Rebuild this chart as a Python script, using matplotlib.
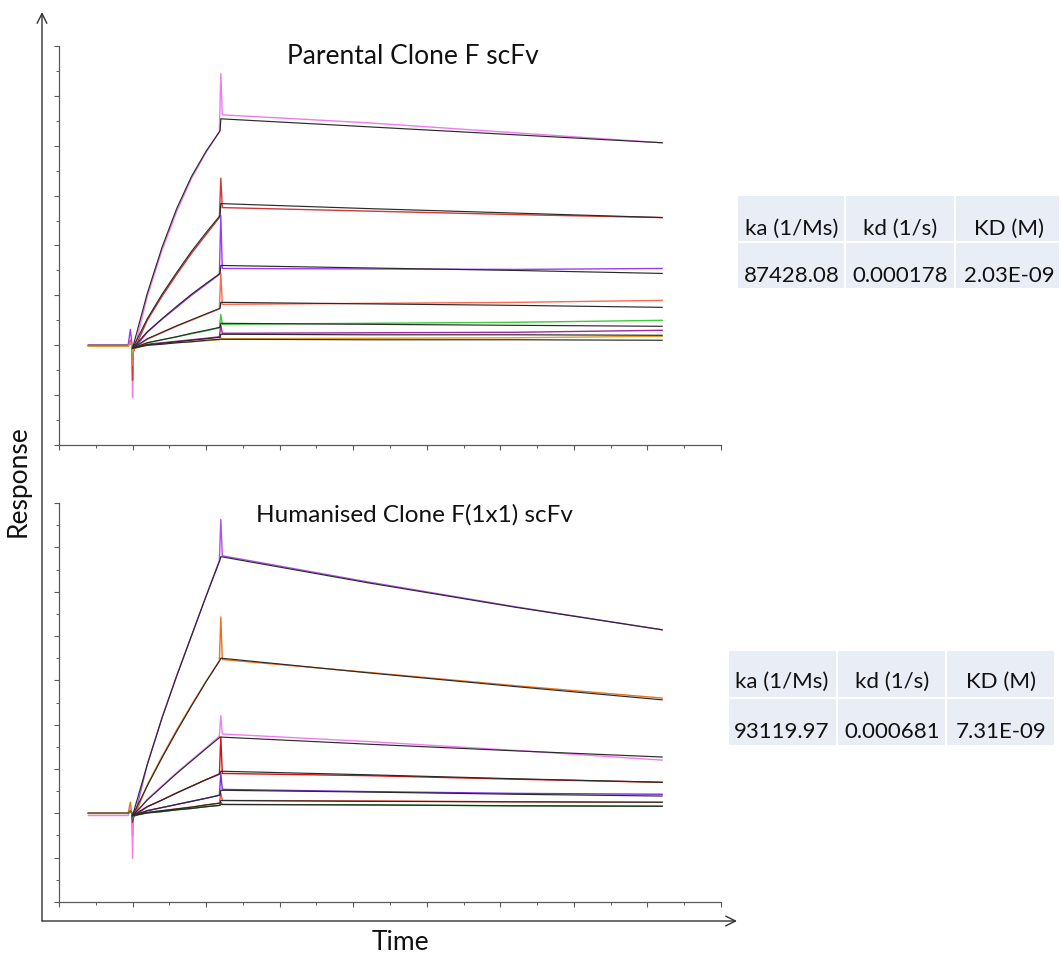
import matplotlib
matplotlib.use('Agg')
import matplotlib.pyplot as plt
from matplotlib.patches import Rectangle
from matplotlib.ticker import MultipleLocator

plt.rcParams['font.family'] = ['Lato', 'DejaVu Sans']

W, H, DPI = 1062, 957, 100

# ---------------- data ----------------
data_time = [40, 94, 97, 99, 100, 101, 103, 120, 140, 160, 180, 200, 218, 220, 222, 420, 620, 820]
fit_time = [100, 120, 140, 160, 180, 200, 219, 220, 420, 620, 820]

parental_colors = ['#ee7cee', '#d03838', '#9a3cf5', '#ff6a50', '#3ccc3c', '#a424a4', '#e0a028']
parental_data = [
    [0.0, 0.0, 0.05, 0.0, -1.05, -0.15, -0.05, 0.98, 1.9, 2.68, 3.34, 3.87, 4.28, 5.45, 4.62, 4.46, 4.26, 4.06],
    [-0.02, -0.02, 0.1, 0.0, -0.7, -0.12, -0.06, 0.5, 0.98, 1.42, 1.84, 2.22, 2.56, 3.35, 2.76, 2.69, 2.62, 2.56],
    [0.0, 0.0, 0.32, 0.05, -0.3, -0.1, -0.05, 0.26, 0.52, 0.76, 1.0, 1.22, 1.42, 2.6, 1.54, 1.53, 1.52, 1.54],
    [-0.02, -0.02, 0.08, 0.0, -0.4, -0.1, -0.06, 0.12, 0.25, 0.38, 0.5, 0.62, 0.73, 1.45, 0.82, 0.84, 0.86, 0.9],
    [0.0, 0.0, 0.05, 0.0, -0.2, -0.08, -0.06, 0.05, 0.11, 0.17, 0.23, 0.29, 0.35, 0.62, 0.42, 0.44, 0.46, 0.5],
    [0.0, 0.0, 0.05, 0.0, -0.15, -0.08, -0.06, 0.02, 0.05, 0.08, 0.11, 0.14, 0.17, 0.4, 0.24, 0.25, 0.26, 0.3],
    [-0.02, -0.02, 0.05, 0.0, -0.15, -0.08, -0.06, 0.0, 0.03, 0.05, 0.07, 0.09, 0.11, 0.16, 0.13, 0.14, 0.15, 0.18],
]
parental_fit = [
    [-0.06, 1.04, 1.96, 2.74, 3.38, 3.89, 4.3, 4.54, 4.38, 4.22, 4.06],
    [-0.06, 0.53, 1.02, 1.46, 1.88, 2.26, 2.6, 2.84, 2.74, 2.65, 2.56],
    [-0.06, 0.27, 0.53, 0.78, 1.02, 1.24, 1.44, 1.6, 1.55, 1.5, 1.44],
    [-0.06, 0.13, 0.26, 0.39, 0.51, 0.63, 0.74, 0.86, 0.83, 0.8, 0.76],
    [-0.06, 0.05, 0.11, 0.17, 0.24, 0.30, 0.36, 0.44, 0.42, 0.4, 0.38],
    [-0.06, 0.01, 0.04, 0.07, 0.1, 0.13, 0.16, 0.22, 0.21, 0.21, 0.2],
    [-0.06, 0.0, 0.02, 0.05, 0.07, 0.1, 0.12, 0.12, 0.11, 0.11, 0.1],
]

humanised_colors = ['#b450ea', '#e8731c', '#f07cf0', '#cc1414', '#7a2ee0', '#f05030', '#1a9a1a']
humanised_data = [
    [0.0, 0.0, 0.1, 0.0, -0.5, -0.1, -0.05, 1.1, 2.15, 3.1, 4.0, 4.9, 5.7, 6.63, 5.81, 5.22, 4.66, 4.14],
    [0.0, 0.0, 0.25, 0.0, -0.3, -0.1, -0.05, 0.64, 1.28, 1.88, 2.44, 2.98, 3.44, 4.43, 3.47, 3.18, 2.88, 2.6],
    [-0.05, -0.05, 0.1, 0.0, -1.02, -0.1, -0.05, 0.32, 0.62, 0.92, 1.2, 1.48, 1.74, 2.2, 1.79, 1.62, 1.42, 1.2],
    [0.0, 0.0, 0.05, 0.0, -0.2, -0.08, -0.05, 0.15, 0.3, 0.46, 0.61, 0.76, 0.88, 1.72, 0.9, 0.85, 0.77, 0.7],
    [0.0, 0.0, 0.05, 0.0, -0.15, -0.08, -0.05, 0.06, 0.13, 0.2, 0.27, 0.34, 0.41, 0.9, 0.54, 0.49, 0.45, 0.43],
    [0.0, 0.0, 0.05, 0.0, -0.1, -0.06, -0.05, 0.02, 0.06, 0.1, 0.14, 0.19, 0.23, 0.45, 0.29, 0.28, 0.26, 0.25],
    [0.0, 0.0, 0.05, 0.0, -0.1, -0.06, -0.05, 0.01, 0.04, 0.08, 0.11, 0.15, 0.18, 0.25, 0.2, 0.19, 0.17, 0.16],
]
humanised_fit = [
    [-0.05, 1.1, 2.15, 3.1, 4.0, 4.9, 5.72, 5.79, 5.2, 4.65, 4.14],
    [-0.05, 0.62, 1.25, 1.85, 2.42, 2.97, 3.46, 3.5, 3.17, 2.86, 2.56],
    [-0.05, 0.3, 0.6, 0.9, 1.18, 1.46, 1.72, 1.72, 1.56, 1.41, 1.27],
    [-0.05, 0.15, 0.3, 0.46, 0.61, 0.76, 0.9, 0.95, 0.87, 0.78, 0.7],
    [-0.05, 0.06, 0.13, 0.2, 0.27, 0.34, 0.41, 0.52, 0.48, 0.43, 0.39],
    [-0.05, 0.02, 0.06, 0.1, 0.14, 0.19, 0.23, 0.29, 0.27, 0.26, 0.25],
    [-0.05, 0.01, 0.04, 0.08, 0.11, 0.15, 0.18, 0.2, 0.19, 0.17, 0.16],
]

titles = ['Parental Clone F scFv', 'Humanised Clone F(1x1) scFv']
table_headers = ['ka (1/Ms)', 'kd (1/s)', 'KD (M)']
parental_kinetics = ['87428.08', '0.000178', '2.03E-09']
humanised_kinetics = ['93119.97', '0.000681', '7.31E-09']

# ---------------- figure ----------------
fig = plt.figure(figsize=(W / DPI, H / DPI), dpi=DPI)


def px_axes(left, top, right, bottom):
    return fig.add_axes([left / W, 1 - bottom / H, (right - left) / W, (bottom - top) / H])


SPINE = '#5a5a5a'


def style(ax, ymin, ymax):
    ax.set_xlim(0, 900)
    ax.set_ylim(ymin, ymax)
    for s in ['top', 'right']:
        ax.spines[s].set_visible(False)
    for s in ['left', 'bottom']:
        ax.spines[s].set_color(SPINE)
        ax.spines[s].set_linewidth(0.9)
    ax.xaxis.set_major_locator(MultipleLocator(100))
    ax.xaxis.set_minor_locator(MultipleLocator(50))
    ax.yaxis.set_major_locator(MultipleLocator(1))
    ax.yaxis.set_minor_locator(MultipleLocator(0.5))
    ax.tick_params(which='major', direction='out', length=3.5, width=0.8, color=SPINE,
                   labelleft=False, labelbottom=False)
    ax.tick_params(which='minor', direction='out', length=2.2, width=0.7, color=SPINE)
    ax.set_facecolor('none')


def draw(ax, data, fits, colors):
    for vals, c in zip(data, colors):
        ax.plot(data_time, vals, color=c, lw=1.0)
    for vals in fits:
        ax.plot(fit_time, vals, color='#2a2a2a', lw=0.85)


ax1 = px_axes(59, 46, 721, 445)
style(ax1, -2, 6)
draw(ax1, parental_data, parental_fit, parental_colors)

ax2 = px_axes(59, 503, 721, 902)
style(ax2, -2, 7)
draw(ax2, humanised_data, humanised_fit, humanised_colors)

# overlay in pixel coordinates for arrows, text and tables
ov = fig.add_axes([0, 0, 1, 1])
ov.set_xlim(0, W)
ov.set_ylim(H, 0)
ov.axis('off')
ov.set_zorder(-1)

arrow_kw = dict(arrowstyle='->,head_length=0.7,head_width=0.35', color='#333333', lw=1.0,
                shrinkA=0, shrinkB=0)
ov.annotate('', xy=(42, 12), xytext=(42, 921), arrowprops=arrow_kw)
ov.annotate('', xy=(737, 921), xytext=(42, 921), arrowprops=arrow_kw)

TXT = '#111111'
ov.text(18, 481, 'Response', rotation=90, ha='center', va='center', fontsize=19, color=TXT)
ov.text(400, 943, 'Time', ha='center', va='center', fontsize=19, color=TXT)
ov.text(413, 57, titles[0], ha='center', va='center', fontsize=19, color=TXT)
ov.text(414, 515, titles[1], ha='center', va='center', fontsize=17.5, color=TXT)


def table(xs, ys, values, text_x, text_y):
    cell = '#e9edf5'
    for i in range(3):
        for j in range(2):
            ov.add_patch(Rectangle((xs[i] + 1, ys[j] + 1), xs[i + 1] - xs[i] - 2, ys[j + 1] - ys[j] - 2,
                                   facecolor=cell, edgecolor='none'))
    for i in range(3):
        ov.text(text_x[i], text_y[0], table_headers[i], ha='center', va='center', fontsize=16,
                color=TXT)
        ov.text(text_x[i], text_y[1], values[i], ha='center', va='center', fontsize=16,
                color=TXT)


table([737, 845, 955, 1060], [195, 242, 289], parental_kinetics, [792, 900, 1009], [229, 276])
table([728, 837, 946, 1055], [650, 698, 746], humanised_kinetics, [782, 892, 1001], [682, 732])

fig.savefig('out.png', dpi=DPI)
